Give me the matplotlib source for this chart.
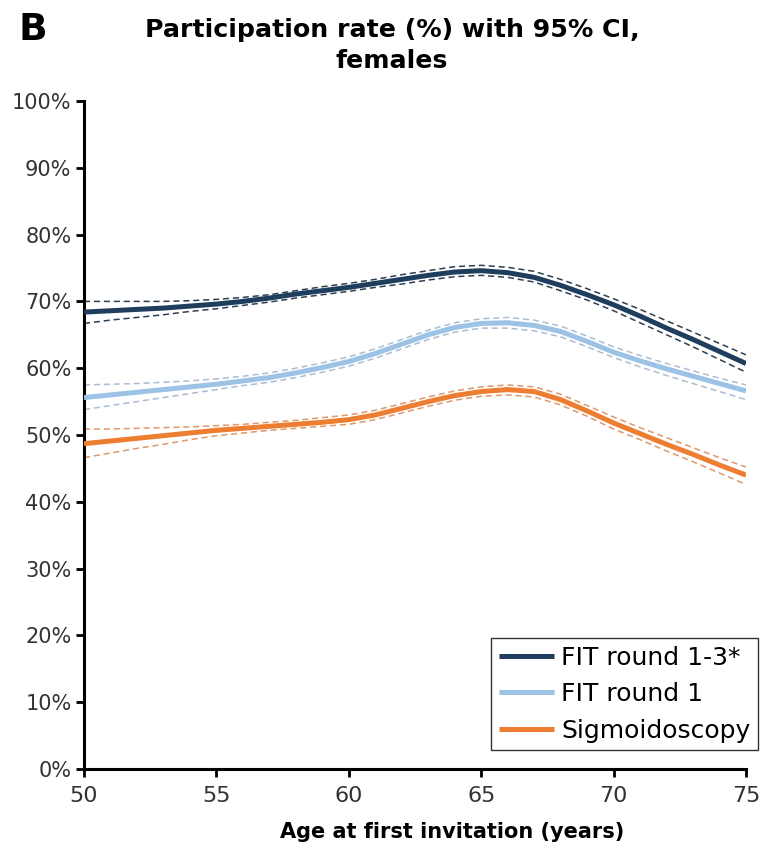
import matplotlib
matplotlib.use("Agg")
import matplotlib.pyplot as plt
from matplotlib.ticker import FuncFormatter

ages = list(range(50, 76))

fit13 = [68.4, 68.6, 68.8, 69.0, 69.3, 69.6, 70.0, 70.5, 71.1, 71.6, 72.1, 72.7, 73.3,
         73.9, 74.4, 74.6, 74.3, 73.6, 72.4, 71.0, 69.5, 67.8, 66.0, 64.3, 62.5, 60.7]
fit13_hi = [70.0, 70.0, 70.0, 70.0, 70.1, 70.3, 70.6, 71.0, 71.6, 72.2, 72.7, 73.3, 74.0,
            74.6, 75.2, 75.4, 75.1, 74.5, 73.3, 71.9, 70.4, 68.8, 67.1, 65.4, 63.7, 62.0]
fit13_lo = [66.7, 67.2, 67.6, 68.0, 68.5, 68.9, 69.4, 69.9, 70.5, 71.0, 71.5, 72.1, 72.6,
            73.2, 73.7, 73.9, 73.6, 72.9, 71.6, 70.2, 68.6, 66.8, 65.0, 63.2, 61.3, 59.4]

fit1 = [55.6, 56.0, 56.4, 56.8, 57.2, 57.6, 58.1, 58.6, 59.3, 60.1, 61.0, 62.2, 63.6,
        65.0, 66.1, 66.7, 66.8, 66.4, 65.5, 64.0, 62.4, 61.1, 59.9, 58.8, 57.7, 56.6]
fit1_hi = [57.5, 57.6, 57.7, 57.9, 58.1, 58.4, 58.8, 59.3, 60.0, 60.8, 61.7, 62.9, 64.3,
           65.7, 66.8, 67.4, 67.6, 67.2, 66.3, 64.8, 63.2, 61.9, 60.7, 59.6, 58.5, 57.5]
fit1_lo = [53.8, 54.4, 55.0, 55.6, 56.2, 56.8, 57.4, 57.9, 58.6, 59.4, 60.3, 61.5, 62.9,
           64.3, 65.4, 66.0, 66.0, 65.6, 64.7, 63.2, 61.6, 60.2, 58.9, 57.7, 56.5, 55.3]

sig = [48.7, 49.1, 49.5, 49.9, 50.3, 50.7, 51.0, 51.3, 51.6, 51.9, 52.3, 53.0, 54.0,
       55.0, 55.9, 56.5, 56.8, 56.5, 55.3, 53.6, 51.8, 50.2, 48.6, 47.1, 45.5, 44.0]
sig_hi = [50.9, 50.9, 51.0, 51.1, 51.2, 51.4, 51.6, 51.9, 52.2, 52.6, 53.0, 53.7, 54.7,
          55.7, 56.6, 57.2, 57.5, 57.2, 56.1, 54.4, 52.7, 51.1, 49.6, 48.1, 46.6, 45.2]
sig_lo = [46.6, 47.3, 48.0, 48.6, 49.3, 49.9, 50.3, 50.7, 51.0, 51.3, 51.6, 52.3, 53.3,
          54.3, 55.2, 55.8, 56.0, 55.7, 54.5, 52.8, 50.9, 49.3, 47.6, 46.0, 44.3, 42.6]

labels = ["FIT round 1-3*", "FIT round 1", "Sigmoidoscopy"]
colors = ["#1f3d5c", "#9cc2e5", "#ed7d31"]
ci_colors = ["#2e3f52", "#aabdd2", "#e0976a"]

fig = plt.figure(figsize=(7.64, 8.47), dpi=100)
ax = fig.add_axes([84/764, 78/847, 662/764, 668/847])

series = [(fit13, fit13_lo, fit13_hi), (fit1, fit1_lo, fit1_hi), (sig, sig_lo, sig_hi)]
for (mid, lo, hi), lab, c, cc in zip(series, labels, colors, ci_colors):
    ax.plot(ages, hi, color=cc, lw=1.1, ls=(0, (4, 2.5)), zorder=2)
    ax.plot(ages, lo, color=cc, lw=1.1, ls=(0, (4, 2.5)), zorder=2)
    ax.plot(ages, mid, color=c, lw=3.6, label=lab, zorder=3, solid_capstyle="butt",
            solid_joinstyle="round")

ax.set_xlim(50, 75)
ax.set_ylim(0, 100)
ax.set_xticks(range(50, 76, 5))
ax.set_yticks(range(0, 101, 10))
ax.yaxis.set_major_formatter(FuncFormatter(lambda v, p: f"{int(v)}%"))

for s in ["top", "right"]:
    ax.spines[s].set_visible(False)
for s in ["left", "bottom"]:
    ax.spines[s].set_linewidth(2.2)
ax.tick_params(axis="both", width=2.0, length=6, colors="black")
ax.tick_params(axis="y", labelsize=15, labelcolor="#333333", pad=3)
ax.tick_params(axis="x", labelsize=16, labelcolor="#333333", pad=6)

leg = ax.legend(loc="lower right", bbox_to_anchor=(758/764, 97/847),
                bbox_transform=fig.transFigure, fontsize=18, frameon=True,
                fancybox=False, edgecolor="black", handlelength=2.2,
                handletextpad=0.3, borderpad=0.3, labelspacing=0.5, borderaxespad=0)
leg.get_frame().set_linewidth(1.0)

fig.text(18/764, 1 - 12/847, "B", fontsize=27, fontweight="bold", va="top", ha="left")
fig.text(392/764, 1 - 18/847, "Participation rate (%) with 95% CI,\nfemales",
         fontsize=18.2, fontweight="bold", ha="center", va="top", linespacing=1.35)
fig.text(452/764, 1 - 832/847, "Age at first invitation (years)", fontsize=15,
         fontweight="bold", ha="center", va="center")

fig.savefig("out.png", dpi=100)
